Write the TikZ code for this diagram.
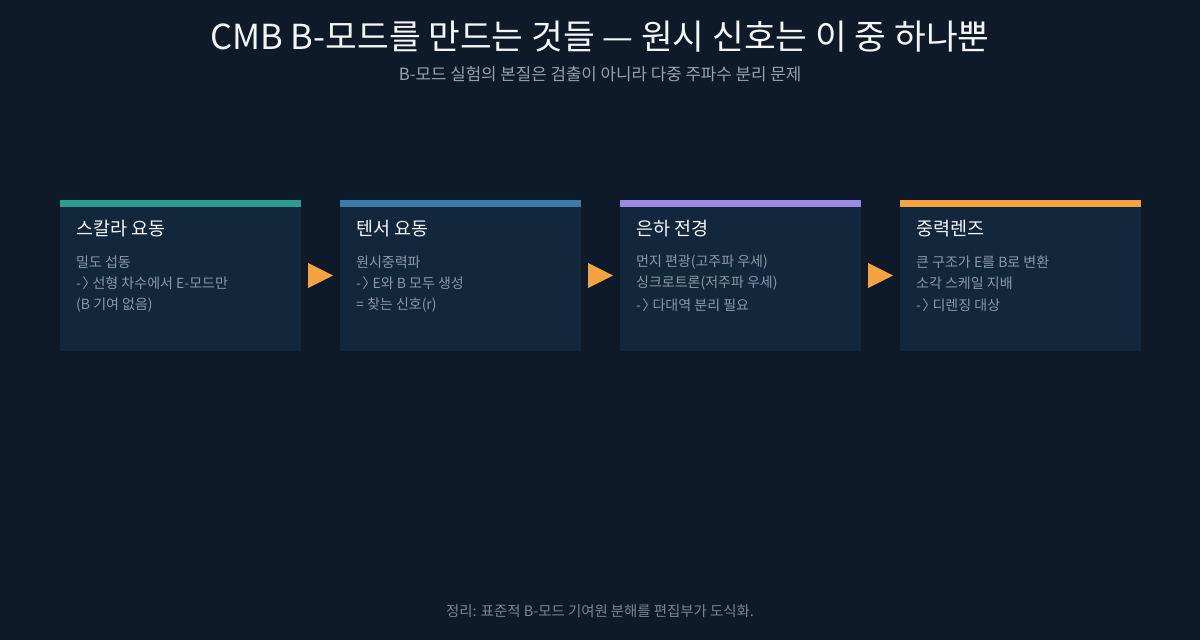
\documentclass[tikz,border=0pt]{standalone}
\usepackage{fontspec}
\setmainfont{Noto Sans CJK KR}
\definecolor{bgc}{HTML}{0E1A2A}
\definecolor{cardc}{HTML}{13273C}
\definecolor{titlec}{HTML}{F4F6F8}
\definecolor{subc}{HTML}{93A1B1}
\definecolor{bodyc}{HTML}{8A98A8}
\definecolor{footc}{HTML}{7A8696}
\definecolor{tealc}{HTML}{2A9D8F}
\definecolor{bluec}{HTML}{3B7DA8}
\definecolor{purplec}{HTML}{9A8AE6}
\definecolor{orangec}{HTML}{F4A340}
\newcommand{\toarrow}{-\kern0.1em〉\kern-0.5em}
\tikzset{
  card/.style={fill=cardc, minimum width=241pt, minimum height=151pt, inner sep=0pt},
  cardhead/.style={anchor=west, inner sep=0pt, text=titlec, font=\fontsize{18.5}{22}\selectfont},
  cardline/.style={anchor=west, inner sep=0pt, text=bodyc, font=\fontsize{14}{17}\selectfont},
  tip/.style={fill=orangec}
}
\begin{document}
\begin{tikzpicture}[x=1pt,y=-1pt]
        % background
        \fill[bgc] (0,0) rectangle (1200,640);
        \useasboundingbox (0,0) rectangle (1200,640);
        % title
        \node[text=titlec, font=\fontsize{34.5}{40}\selectfont] (title) at (600,37) {CMB B-모드를 만드는 것들 — 원시 신호는 이 중 하나뿐};
        \node[text=subc, font=\fontsize{16.8}{20}\selectfont] (subtitle) at (600,74) {B-모드 실험의 본질은 검출이 아니라 다중 주파수 분리 문제};
        % cards
        \node[card] (scalar) at (180.5,275.5) {};
        \node[card] (tensor) at (460.5,275.5) {};
        \node[card] (galaxy) at (740.5,275.5) {};
        \node[card] (lensing) at (1020.5,275.5) {};
        \fill[tealc] (scalar.north west) rectangle ++(241,7);
        \fill[bluec] (tensor.north west) rectangle ++(241,7);
        \fill[purplec] (galaxy.north west) rectangle ++(241,7);
        \fill[orangec] (lensing.north west) rectangle ++(241,7);
        % texts
        \node[cardhead] (scalarhead) at (76,229) {스칼라 요동};
        \node[cardline] (scalar1) at (76,262) {밀도 섭동};
        \node[cardline] (scalar2) at (76,283) {\toarrow{} 선형 차수에서 E-모드만};
        \node[cardline] (scalar3) at (76,305) {(B 기여 없음)};
        
        \node[cardhead] (tensorhead) at (356,229) {텐서 요동};
        \node[cardline] (tensor1) at (356,262) {원시중력파};
        \node[cardline] (tensor2) at (356,283) {\toarrow{} E와 B 모두 생성};
        \node[cardline] (tensor3) at (356,305) {= 찾는 신호(r)};
        
        \node[cardhead] (galaxyhead) at (636,229) {은하 전경};
        \node[cardline] (galaxy1) at (636,262) {먼지 편광(고주파 우세)};
        \node[cardline] (galaxy2) at (636,283) {싱크로트론(저주파 우세)};
        \node[cardline] (galaxy3) at (636,305) {\toarrow{} 다대역 분리 필요};
        
        \node[cardhead] (lensinghead) at (916,229) {중력렌즈};
        \node[cardline] (lensing1) at (916,262) {큰 구조가 E를 B로 변환};
        \node[cardline] (lensing2) at (916,283) {소각 스케일 지배};
        \node[cardline] (lensing3) at (916,305) {\toarrow{} 디렌징 대상};
        % arrows
        \fill[tip] (scalar.east) ++(7,-12.5) -- ++(25,12.5) -- ++(-25,12.5) -- cycle;
        \fill[tip] (tensor.east) ++(7,-12.5) -- ++(25,12.5) -- ++(-25,12.5) -- cycle;
        \fill[tip] (galaxy.east) ++(7,-12.5) -- ++(25,12.5) -- ++(-25,12.5) -- cycle;
        % footer
        \node[text=footc, font=\fontsize{14.4}{17}\selectfont] (footer) at (600,611) {정리: 표준적 B-모드 기여원 분해를 편집부가 도식화.};
\end{tikzpicture}
\end{document}
